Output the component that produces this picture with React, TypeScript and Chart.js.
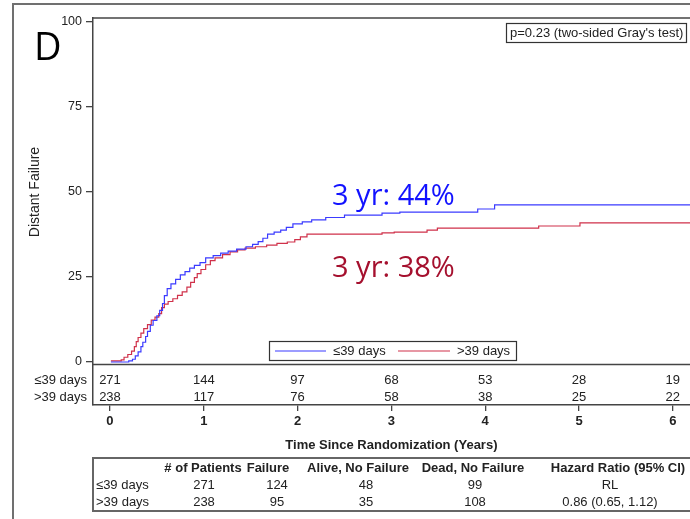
import React, { useEffect, useRef } from "react";
import { Chart, registerables } from "chart.js";

Chart.register(...registerables);

// ---------- data ----------
const groups = ["≤39 days", ">39 days"];

const timeLe39 = [0.01, 0.2, 0.24, 0.27, 0.3, 0.33, 0.35, 0.38, 0.4, 0.43, 0.46, 0.5, 0.53, 0.56, 0.58, 0.61, 0.65, 0.7, 0.75, 0.8, 0.85, 0.9, 0.96, 1.02, 1.1, 1.18, 1.26, 1.35, 1.45, 1.52, 1.58, 1.63, 1.68, 1.75, 1.82, 1.88, 1.95, 2.05, 2.15, 2.3, 2.5, 2.9, 3.09, 3.92, 4.1, 6.2];
const cifLe39 = [0, 0.3, 0.8, 1.8, 3.0, 4.5, 5.8, 7.5, 9.0, 10.8, 12.2, 13.6, 15.2, 17.2, 19.5, 21.6, 23.0, 24.3, 25.6, 26.6, 27.6, 28.4, 29.2, 30.6, 31.3, 32.0, 32.6, 33.2, 33.9, 34.6, 35.4, 36.4, 37.6, 38.2, 38.8, 39.6, 40.6, 41.2, 41.8, 42.5, 43.2, 43.8, 44.1, 45.0, 46.2, 46.2];

const timeGt39 = [0.01, 0.12, 0.15, 0.19, 0.23, 0.26, 0.28, 0.3, 0.33, 0.36, 0.4, 0.44, 0.48, 0.52, 0.55, 0.58, 0.62, 0.67, 0.72, 0.77, 0.82, 0.86, 0.9, 0.93, 0.97, 1.02, 1.07, 1.12, 1.2, 1.28, 1.36, 1.44, 1.55, 1.67, 1.78, 1.89, 1.97, 2.03, 2.1, 2.9, 3.03, 3.38, 3.49, 4.57, 5.01, 6.2];
const cifGt39 = [0.3, 0.6, 1.4, 2.2, 3.2, 4.5, 6.0, 7.2, 8.5, 9.8, 11.0, 12.3, 13.2, 14.2, 16.0, 17.0, 17.8, 18.6, 19.6, 20.6, 22.0, 23.4, 24.8, 26.0, 27.2, 28.6, 29.8, 30.6, 31.6, 32.4, 33.0, 33.5, 33.9, 34.4, 34.9, 35.3, 36.0, 36.8, 37.6, 38.0, 38.2, 38.8, 39.4, 40.0, 40.9, 40.9];

const xTicks = [0, 1, 2, 3, 4, 5, 6];
const yTicks = [0, 25, 50, 75, 100];
const atRiskLe39 = [271, 144, 97, 68, 53, 28, 19];
const atRiskGt39 = [238, 117, 76, 58, 38, 25, 22];

const tableHeaders = ["# of Patients", "Failure", "Alive, No Failure", "Dead, No Failure", "Hazard Ratio (95% CI)"];
const tableLe39 = ["271", "124", "48", "99", "RL"];
const tableGt39 = ["238", "95", "35", "108", "0.86 (0.65, 1.12)"];

const panelLetter = "D";
const yTitle = "Distant Failure";
const xTitle = "Time Since Randomization (Years)";
const pValueText = "p=0.23 (two-sided Gray's test)";
const annotLe39 = "3 yr: 44%";
const annotGt39 = "3 yr: 38%";

// ---------- style ----------
const FONT = "'Liberation Sans', Arial, sans-serif";
const HUM = "'Open Sans', 'Noto Sans', sans-serif";
const BLUE = "#3b3bff";
const RED = "#d0314a";
const AXIS = "#444";
const TEXT = "#222";

const W = 690;
const H = 519;

const headerX = [203, 268, 358, 473, 618];
const valueX = [204, 277, 366, 475, 610];

function hline(ctx: CanvasRenderingContext2D, x1: number, x2: number, y: number) {
  ctx.beginPath();
  ctx.moveTo(x1, y);
  ctx.lineTo(x2, y);
  ctx.stroke();
}

const decor = {
  id: "decor",
  afterDraw(chart: any) {
    const ctx: CanvasRenderingContext2D = chart.ctx;
    const { left, right, top } = chart.chartArea;
    const xs = chart.scales.x;
    const ys = chart.scales.y;
    ctx.save();

    // outer frame
    ctx.strokeStyle = "#707070";
    ctx.lineWidth = 2;
    ctx.beginPath();
    ctx.moveTo(13, H + 2);
    ctx.lineTo(13, 4);
    ctx.lineTo(W + 2, 4);
    ctx.stroke();

    // plot frame top
    ctx.strokeStyle = AXIS;
    ctx.lineWidth = 1.5;
    hline(ctx, left, right + 2, top);
    // separator between plot and at-risk table
    const ySep = ys.getPixelForValue(0) + 2.5;
    hline(ctx, left, right + 2, ySep);

    // panel letter
    ctx.fillStyle = "#000";
    ctx.font = `38px ${HUM}`;
    ctx.textAlign = "left";
    ctx.textBaseline = "alphabetic";
    ctx.fillText(panelLetter, 34, 60);

    // y title
    ctx.save();
    ctx.translate(35, (ys.getPixelForValue(0) + ys.getPixelForValue(100)) / 2);
    ctx.rotate(-Math.PI / 2);
    ctx.font = `14px ${FONT}`;
    ctx.fillStyle = TEXT;
    ctx.textAlign = "center";
    ctx.textBaseline = "middle";
    ctx.fillText(yTitle, 0, 0);
    ctx.restore();

    // p-value box
    ctx.strokeStyle = "#333";
    ctx.lineWidth = 1.2;
    ctx.strokeRect(506.5, 23.5, 180, 19);
    ctx.font = `13px ${FONT}`;
    ctx.fillStyle = TEXT;
    ctx.textAlign = "left";
    ctx.textBaseline = "middle";
    ctx.fillText(pValueText, 510, 33.5);

    // annotations
    ctx.font = `29px ${HUM}`;
    ctx.textBaseline = "alphabetic";
    ctx.fillStyle = "#1212ff";
    ctx.fillText(annotLe39, 332, 205);
    ctx.fillStyle = "#a5102e";
    ctx.fillText(annotGt39, 332, 277);

    // legend
    ctx.strokeStyle = "#333";
    ctx.lineWidth = 1.2;
    ctx.strokeRect(269.5, 341.5, 247, 19);
    ctx.lineWidth = 1.2;
    ctx.strokeStyle = BLUE;
    hline(ctx, 275, 326, 351);
    ctx.strokeStyle = RED;
    hline(ctx, 398, 450, 351);
    ctx.font = `13px ${FONT}`;
    ctx.fillStyle = TEXT;
    ctx.textBaseline = "middle";
    ctx.fillText(groups[0], 333, 351.5);
    ctx.fillText(groups[1], 457, 351.5);

    // at-risk table
    ctx.font = `13px ${FONT}`;
    ctx.fillStyle = TEXT;
    ctx.textAlign = "right";
    ctx.fillText(groups[0], 87, 380);
    ctx.fillText(groups[1], 87, 397);
    ctx.textAlign = "center";
    xTicks.forEach((t, i) => {
      const px = xs.getPixelForValue(t);
      ctx.fillText(String(atRiskLe39[i]), px, 380);
      ctx.fillText(String(atRiskGt39[i]), px, 397);
    });

    // x title
    ctx.font = `bold 13px ${FONT}`;
    ctx.textAlign = "center";
    ctx.fillText(xTitle, xs.getPixelForValue(3), 445);

    // summary table
    ctx.strokeStyle = "#666";
    ctx.lineWidth = 2;
    ctx.beginPath();
    ctx.moveTo(W + 2, 458);
    ctx.lineTo(left, 458);
    ctx.lineTo(left, 511);
    ctx.lineTo(W + 2, 511);
    ctx.stroke();
    ctx.font = `bold 13px ${FONT}`;
    ctx.fillStyle = TEXT;
    ctx.textAlign = "center";
    tableHeaders.forEach((h, i) => ctx.fillText(h, headerX[i], 468.5));
    ctx.font = `13px ${FONT}`;
    ctx.textAlign = "left";
    ctx.fillText(groups[0], 96, 485.5);
    ctx.fillText(groups[1], 96, 502.5);
    ctx.textAlign = "center";
    tableLe39.forEach((v, i) => ctx.fillText(v, valueX[i], 485.5));
    tableGt39.forEach((v, i) => ctx.fillText(v, valueX[i], 502.5));

    ctx.restore();
  },
};

export default function App() {
  const ref = useRef<HTMLCanvasElement | null>(null);

  useEffect(() => {
    if (!ref.current) return;
    const chart = new Chart(ref.current, {
      type: "line",
      data: {
        datasets: [
          {
            label: groups[0],
            data: timeLe39.map((t, i) => ({ x: t, y: cifLe39[i] })),
            borderColor: BLUE,
            borderWidth: 1.2,
            stepped: true,
            pointRadius: 0,
            fill: false,
          },
          {
            label: groups[1],
            data: timeGt39.map((t, i) => ({ x: t, y: cifGt39[i] })),
            borderColor: RED,
            borderWidth: 1.2,
            stepped: true,
            pointRadius: 0,
            fill: false,
          },
        ],
      },
      options: {
        animation: false,
        responsive: false,
        devicePixelRatio: 1,
        layout: { padding: { top: 18, left: 0, right: 0, bottom: 0 } },
        plugins: { legend: { display: false }, tooltip: { enabled: false } },
        scales: {
          x: {
            type: "linear",
            min: -0.181,
            max: 6.183,
            afterBuildTicks: (s: any) => {
              s.ticks = xTicks.map((v) => ({ value: v }));
            },
            afterFit: (s: any) => {
              s.height = 114;
            },
            grid: { drawOnChartArea: false, drawTicks: true, tickLength: 6, color: AXIS, lineWidth: 1.3 },
            border: { display: true, color: AXIS, width: 1.5 },
            ticks: {
              font: { family: FONT, size: 13, weight: "bold" },
              color: TEXT,
              padding: 3,
              maxRotation: 0,
              autoSkip: false,
            },
          },
          y: {
            type: "linear",
            min: -12.65,
            max: 101.18,
            afterBuildTicks: (s: any) => {
              s.ticks = yTicks.map((v) => ({ value: v }));
            },
            afterFit: (s: any) => {
              s.width = 93;
            },
            grid: { drawOnChartArea: false, drawTicks: true, tickLength: 7, color: AXIS, lineWidth: 1.3 },
            border: { display: true, color: AXIS, width: 1.5 },
            ticks: {
              font: { family: FONT, size: 12.5 },
              color: TEXT,
              padding: 4,
              autoSkip: false,
            },
          },
        },
      },
      plugins: [decor],
    });
    return () => chart.destroy();
  }, []);

  return (
    <div style={{ position: "fixed", left: 0, top: 0, width: W, height: H, overflow: "hidden", background: "#fff" }}>
      <canvas ref={ref} width={W} height={H} style={{ display: "block", width: W, height: H }} />
    </div>
  );
}
